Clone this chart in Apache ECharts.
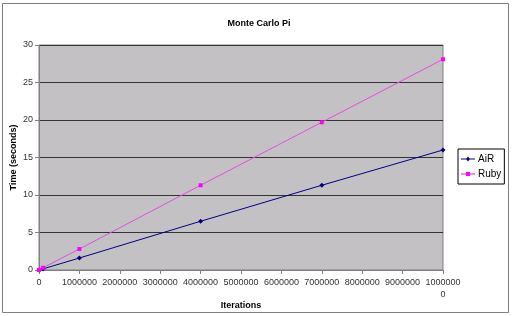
<!DOCTYPE html>
<html><head><meta charset="utf-8">
<script src="https://cdn.jsdelivr.net/npm/echarts@6/dist/echarts.min.js"></script>
<style>html,body{margin:0;padding:0;background:#fff}#c{width:512px;height:316px}</style>
</head><body><div id="c"></div>
<script>
var iterations = [0, 100000, 1000000, 4000000, 7000000, 10000000];
var airTimes = [0, 0.15, 1.6, 6.5, 11.3, 16.0];
var rubyTimes = [0, 0.3, 2.8, 11.3, 19.7, 28.1];
var seriesNames = ['AiR', 'Ruby'];
var titleText = 'Monte Carlo Pi';
var xName = 'Iterations';
var yName = 'Time (seconds)';

function pairs(xs, ys){ return xs.map(function(x,i){ return [x, ys[i]]; }); }
var font = 'Liberation Sans, Arial, sans-serif';
var chart = echarts.init(document.getElementById('c'), null, {renderer:'canvas'});
chart.setOption({
  animation:false,
  backgroundColor:'#fff',
  title:{text:titleText,left:254,top:14,textAlign:'center',textStyle:{fontFamily:font,fontSize:9,fontWeight:'bold',color:'#000'}},
  graphic:[{type:'rect',shape:{x:2.5,y:3.5,width:506,height:309},style:{fill:'none',stroke:'#808080',lineWidth:1},z:-1}],
  grid:{left:39,right:69,top:45,bottom:46,containLabel:false,outerBoundsMode:'none',show:true,backgroundColor:'#c3c1c3',borderColor:'#808080',borderWidth:1},
  legend:{orient:'vertical',left:458,top:149,padding:[5,3,5,3],itemGap:5,itemWidth:14,itemHeight:6,
    borderColor:'#000',borderWidth:1,textStyle:{fontFamily:font,fontSize:10,color:'#000',padding:[0,0,0,-2]},
    data:[{name:'AiR',icon:'path://M0,3 L14,3 L14,4 L0,4 Z M7,1 L9,3.5 L7,6 L5,3.5 Z'},
          {name:'Ruby',icon:'path://M0,3 L14,3 L14,4 L0,4 Z M5,1.5 L9,1.5 L9,5.5 L5,5.5 Z'}]},
  xAxis:{type:'value',min:0,max:10000000,interval:1000000,
    name:xName,nameLocation:'middle',nameGap:31,nameMoveOverlap:false,nameTextStyle:{fontFamily:font,fontSize:9,fontWeight:'bold',color:'#000'},
    axisLine:{lineStyle:{color:'#808080'}},axisTick:{inside:false,length:4,lineStyle:{color:'#808080'}},
    splitLine:{show:false},
    axisLabel:{fontFamily:font,fontSize:9,color:'#333',margin:7,lineHeight:12,
      formatter:function(v){ var s=String(v); return s.length>7 ? s.slice(0,7)+'\n'+s.slice(7) : s; }}},
  yAxis:{type:'value',min:0,max:30,interval:5,
    name:yName,nameLocation:'middle',nameGap:21,nameMoveOverlap:false,nameTextStyle:{fontFamily:font,fontSize:9,fontWeight:'bold',color:'#000'},
    axisLine:{show:true,lineStyle:{color:'#808080'}},axisTick:{show:true,length:4,lineStyle:{color:'#808080'}},
    splitLine:{lineStyle:{color:'#333',width:1}},
    axisLabel:{fontFamily:font,fontSize:9,color:'#333',margin:6}},
  series:[
    {name:seriesNames[0],type:'line',data:pairs(iterations,airTimes),color:'#000080',symbol:'diamond',symbolSize:5,
      lineStyle:{width:1,color:'#000080'},itemStyle:{color:'#000080'}},
    {name:seriesNames[1],type:'line',data:pairs(iterations,rubyTimes),color:'#ff00ff',symbol:'rect',symbolSize:4,
      lineStyle:{width:1,color:'#e050e0'},itemStyle:{color:'#ff00ff'}}
  ]
});
</script></body></html>
